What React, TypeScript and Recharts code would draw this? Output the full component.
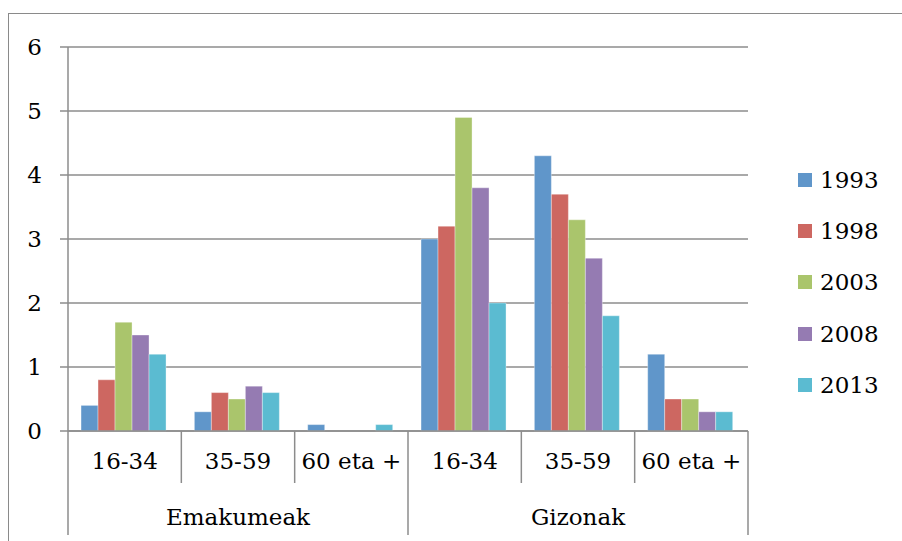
import React from "react";
import {
  BarChart,
  Bar,
  XAxis,
  YAxis,
  CartesianGrid,
  Legend,
} from "recharts";

// categories (two-level axis)
const ages = ["16-34", "35-59", "60 eta +", "16-34", "35-59", "60 eta +"];
const groups = ["Emakumeak", "Emakumeak", "Emakumeak", "Gizonak", "Gizonak", "Gizonak"];

// series values
const y1993 = [0.4, 0.3, 0.1, 3.0, 4.3, 1.2];
const y1998 = [0.8, 0.6, 0, 3.2, 3.7, 0.5];
const y2003 = [1.7, 0.5, 0, 4.9, 3.3, 0.5];
const y2008 = [1.5, 0.7, 0, 3.8, 2.7, 0.3];
const y2013 = [1.2, 0.6, 0.1, 2.0, 1.8, 0.3];

const seriesNames = ["1993", "1998", "2003", "2008", "2013"];
const seriesColors = ["#6096CA", "#CD6761", "#AAC56C", "#957BB2", "#5BBBD1"];
const yTicks = [0, 1, 2, 3, 4, 5, 6];

const data = ages.map((age, i) => ({
  age,
  group: groups[i],
  "1993": y1993[i],
  "1998": y1998[i],
  "2003": y2003[i],
  "2008": y2008[i],
  "2013": y2013[i],
}));

const W = 902;
const H = 541;
const margin = { top: 47, right: 154, left: 0, bottom: 6 };
const yAxisW = 68;
const band = (W - margin.left - yAxisW - margin.right) / ages.length;
const FONT = "DejaVu Serif";
const FS = 23;
const LINE = "#8C8C8C";

const AgeTick = (props: any) => {
  const { x, y, index } = props;
  const last = index === ages.length - 1;
  return (
    <g>
      <line x1={x - band / 2} x2={x - band / 2} y1={y} y2={y + 52} stroke={LINE} strokeWidth={1.5} />
      {last && (
        <line x1={x + band / 2} x2={x + band / 2} y1={y} y2={y + 52} stroke={LINE} strokeWidth={1.5} />
      )}
      <text x={x} y={y + 38} textAnchor="middle" fontFamily={FONT} fontSize={FS} fill="#000">
        {ages[index]}
      </text>
    </g>
  );
};

const GroupTick = (props: any) => {
  const { x, y, index } = props;
  const first = index === 0 || groups[index] !== groups[index - 1];
  const last = index === groups.length - 1;
  const mid = index % 3 === 1;
  return (
    <g>
      {first && (
        <line x1={x - band / 2} x2={x - band / 2} y1={y} y2={y + 52} stroke={LINE} strokeWidth={1.5} />
      )}
      {last && (
        <line x1={x + band / 2} x2={x + band / 2} y1={y} y2={y + 52} stroke={LINE} strokeWidth={1.5} />
      )}
      {mid && (
        <text x={x} y={y + 42} textAnchor="middle" fontFamily={FONT} fontSize={FS} fill="#000">
          {groups[index]}
        </text>
      )}
    </g>
  );
};

const renderLegend = () => (
  <div style={{ fontFamily: FONT, fontSize: FS, color: "#000" }}>
    {seriesNames.map((n, i) => (
      <div key={n} style={{ display: "flex", alignItems: "center", height: 51.3 }}>
        <span
          style={{
            display: "inline-block",
            width: 14,
            height: 14,
            background: seriesColors[i],
            marginRight: 8,
          }}
        />
        <span>{n}</span>
      </div>
    ))}
  </div>
);

export default function App() {
  return (
    <div
      style={{
        position: "absolute",
        left: 0,
        top: 0,
        width: W,
        height: H,
        overflow: "hidden",
        background: "#fff",
      }}
    >
      <div
        style={{
          position: "absolute",
          left: 8,
          top: 13,
          width: 1000,
          height: 1000,
          borderTop: "1px solid #8a8a8a",
          borderLeft: "1px solid #8a8a8a",
        }}
      />
      <BarChart
        width={W}
        height={H}
        data={data}
        margin={margin}
        barCategoryGap="11.5%"
        barGap={0}
        style={{ position: "absolute", left: 0, top: 0 }}
      >
        <CartesianGrid vertical={false} stroke={LINE} strokeWidth={1.5} />
        <XAxis
          xAxisId="age"
          dataKey="age"
          height={52}
          interval={0}
          tickLine={false}
          tickSize={0}
          tickMargin={0}
          axisLine={{ stroke: LINE, strokeWidth: 1.5 }}
          tick={<AgeTick />}
        />
        <XAxis
          xAxisId="grp"
          dataKey="age"
          height={52}
          interval={0}
          tickLine={false}
          tickSize={0}
          tickMargin={0}
          axisLine={false}
          tick={<GroupTick />}
        />
        <YAxis
          width={yAxisW}
          domain={[0, 6]}
          ticks={yTicks}
          interval={0}
          tickSize={8}
          tickMargin={18}
          axisLine={{ stroke: LINE, strokeWidth: 1.5 }}
          tickLine={{ stroke: LINE, strokeWidth: 1.5 }}
          tick={{ fontFamily: FONT, fontSize: FS, fill: "#000" }}
        />
        <Legend
          layout="horizontal"
          align="center"
          verticalAlign="middle"
          content={renderLegend}
          wrapperStyle={{ left: 798, top: 154, width: 100 }}
        />
        {seriesNames.map((n, i) => (
          <Bar
            key={n}
            xAxisId="age"
            dataKey={n}
            fill={seriesColors[i]}
            stroke="rgba(255,255,255,0.35)"
            strokeWidth={1}
            isAnimationActive={false}
          />
        ))}
      </BarChart>
    </div>
  );
}
